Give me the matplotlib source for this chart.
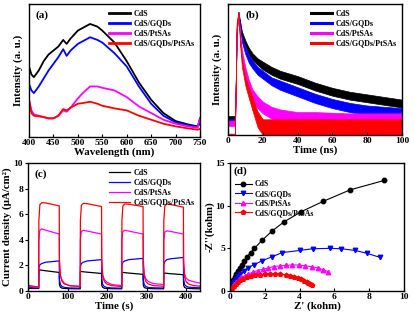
import matplotlib
matplotlib.use("Agg")
import matplotlib.pyplot as plt

plt.rcParams['font.family'] = ['Liberation Serif', 'DejaVu Serif']
plt.rcParams['font.weight'] = 'bold'
plt.rcParams['axes.labelweight'] = 'bold'
plt.rcParams['axes.linewidth'] = 1.0

names = ['CdS', 'CdS/GQDs', 'CdS/PtSAs', 'CdS/GQDs/PtSAs']
colors = ['black', '#0000ff', '#ff00ff', '#ff0000']

# ---------- (a) PL spectra ----------
wl = [400, 405, 410, 420, 430, 440, 450, 460, 470, 477, 485, 500, 510, 525, 540,
      550, 575, 600, 625, 650, 675, 700, 725, 745, 750]
pl_cds = [53, 47, 45, 50, 57, 62, 65, 68, 73, 70, 74, 80, 82, 85, 83,
          80, 71, 57, 41, 28, 18, 12, 9.5, 8, 10]
pl_gqd = [40, 35, 33, 38, 44, 50, 55, 60, 66, 61, 65, 70, 72, 75, 73,
          71, 63, 53, 38, 25, 16, 11, 9, 7.5, 14]
pl_pt = [28, 20, 17, 16, 15, 14, 14, 16, 20, 19, 22, 29, 33, 38, 38,
         37, 35, 30, 23, 18, 13, 10, 8, 7, 14]
pl_gp = [28, 18, 16, 15.5, 15, 14, 14, 16, 21, 20, 22, 25, 25.5, 26.5, 25,
         23.5, 21.5, 20, 16, 13, 10, 8, 6.5, 5.5, 6]

# ---------- (b) TRPL decay (centre and noise half-width) ----------
tb = [0, 2, 4, 4.5, 5, 6, 7, 8, 10, 12, 14, 17, 20, 25, 30, 40, 50, 60, 70, 80, 90, 100]
tr_cds = [12, 12, 12, 40, 80, 93, 85, 77, 70, 64, 60, 56, 53, 49, 46, 42, 37, 33, 30, 28, 26, 24]
tr_gqd = [10, 10, 10, 40, 80, 93, 82, 73, 64, 58, 54, 49, 46, 41, 38, 33, 28, 24, 21, 19, 18, 17]
tr_pt = [9, 9, 9, 40, 80, 93, 75, 62, 48, 38, 31, 25, 21, 17, 15, 13, 13, 12.5, 12, 12, 12, 12]
tr_gp = [0.5, 0.5, 0.5, 45, 85, 93, 70, 55, 41, 32, 24, 12, 6, 6, 6, 6, 6, 6, 6, 6, 6, 6]
wd_cds = [2.5, 2.5, 2.5, 1, 1, 1, 1.5, 2, 2, 2.5, 2.5, 2.5, 3, 3, 3, 3, 3, 3, 3, 3, 3, 3]
wd_gqd = [2, 2, 2, 1, 1, 1, 1.5, 2, 2.5, 3, 3, 3, 3, 3, 3.5, 3.5, 3.5, 3.5, 3.5, 3.5, 3.5, 3.5]
wd_pt = [2, 2, 2, 1, 1, 1, 2, 3, 3.5, 4, 4, 4.5, 4.5, 4.5, 4.5, 4.5, 4.5, 4.5, 4.5, 4.5, 4.5, 4.5]
wd_gp = [0.5, 0.5, 0.5, 1, 1, 1, 2, 3, 3.5, 4, 5, 6, 6, 6, 6, 6, 6, 6, 6, 6, 6, 6]

# ---------- (c) transient photocurrent ----------
tc = [0,
      27, 27.5, 30, 35, 45, 79, 79.5, 82, 86, 92, 105,
      132, 132.5, 135, 140, 150, 186, 186.5, 189, 193, 199, 212,
      237, 237.5, 240, 245, 255, 291, 291.5, 294, 298, 304, 317,
      343, 343.5, 346, 351, 361, 393, 393.5, 396, 400, 406, 419, 435]
j_cds = [0.2,
         0.2, 1.6, 1.65, 1.62, 1.58, 1.45, 0.5, 0.3, 0.22, 0.2, 0.18,
         0.17, 1.5, 1.52, 1.5, 1.47, 1.37, 0.45, 0.28, 0.22, 0.2, 0.18,
         0.17, 1.42, 1.45, 1.43, 1.4, 1.3, 0.45, 0.28, 0.22, 0.2, 0.18,
         0.17, 1.38, 1.4, 1.38, 1.35, 1.27, 0.45, 0.28, 0.22, 0.2, 0.18, 0.17]
j_gqd = [0.3,
         0.22, 1.8, 2.05, 2.15, 2.25, 2.35, 0.9, 0.5, 0.35, 0.28, 0.24,
         0.22, 1.9, 2.15, 2.25, 2.35, 2.45, 0.9, 0.5, 0.35, 0.28, 0.24,
         0.22, 2.0, 2.25, 2.35, 2.45, 2.55, 0.9, 0.5, 0.35, 0.28, 0.25,
         0.23, 2.05, 2.3, 2.45, 2.52, 2.62, 0.9, 0.5, 0.38, 0.3, 0.27, 0.25]
j_pt = [0.35,
        0.3, 4.0, 4.75, 4.85, 4.75, 4.45, 2.0, 1.2, 0.85, 0.6, 0.42,
        0.35, 4.0, 4.65, 4.75, 4.68, 4.45, 2.0, 1.25, 0.9, 0.7, 0.5,
        0.42, 4.0, 4.65, 4.75, 4.68, 4.45, 2.1, 1.3, 0.95, 0.75, 0.58,
        0.5, 4.0, 4.6, 4.7, 4.65, 4.45, 2.1, 1.35, 1.0, 0.85, 0.72, 0.62]
j_gp = [0.45,
        0.3, 5.5, 6.75, 6.9, 6.88, 6.65, 2.5, 1.2, 0.75, 0.55, 0.42,
        0.35, 5.5, 6.7, 6.85, 6.82, 6.6, 2.5, 1.15, 0.75, 0.55, 0.42,
        0.35, 5.5, 6.65, 6.8, 6.78, 6.6, 2.5, 1.15, 0.75, 0.55, 0.42,
        0.37, 5.5, 6.65, 6.8, 6.75, 6.55, 2.4, 1.1, 0.72, 0.55, 0.42, 0.38]

# ---------- (d) EIS Nyquist ----------
zr_cds = [0.0, 0.05, 0.1, 0.15, 0.2, 0.27, 0.35, 0.45, 0.55, 0.68, 0.82, 0.98, 1.18,
          1.4, 1.85, 2.4, 3.1, 4.1, 5.35, 6.9, 8.85]
zi_cds = [0.0, 0.4, 0.7, 1.0, 1.3, 1.6, 1.95, 2.3, 2.65, 3.05, 3.5, 4.0, 4.5,
          5.0, 5.95, 7.0, 8.1, 9.3, 10.5, 11.85, 12.95]
zr_gqd = [0.0, 0.03, 0.08, 0.15, 0.24, 0.33, 0.45, 0.6, 0.8, 1.05, 1.4, 1.85, 2.4,
          3.0, 4.0, 4.75, 5.75, 6.4, 7.2, 7.9, 8.6]
zi_gqd = [0.0, 0.2, 0.5, 0.8, 1.1, 1.4, 1.7, 2.0, 2.35, 2.75, 3.1, 3.55, 4.0,
          4.5, 4.75, 4.95, 5.0, 4.95, 4.75, 4.4, 3.95]
zr_pt = [0.0, 0.03, 0.08, 0.15, 0.25, 0.36, 0.5, 0.65, 0.85, 1.05, 1.3, 1.6, 1.9,
         2.2, 2.5, 2.85, 3.2, 3.55, 3.95, 4.3, 4.7, 5.05, 5.35, 5.65]
zi_pt = [0.0, 0.15, 0.35, 0.6, 0.85, 1.1, 1.35, 1.6, 1.8, 2.0, 2.2, 2.4, 2.55,
         2.7, 2.85, 2.95, 3.0, 3.05, 3.05, 2.95, 2.85, 2.7, 2.5, 2.25]
zr_gp = [0.0, 0.06, 0.13, 0.22, 0.33, 0.45, 0.58, 0.75, 0.95, 1.2, 1.45, 1.7, 2.0,
         2.3, 2.6, 2.9, 3.2, 3.45, 3.7, 3.9, 4.1, 4.25, 4.4, 4.5, 4.6, 4.7]
zi_gp = [0.0, 0.2, 0.4, 0.6, 0.85, 1.05, 1.25, 1.45, 1.6, 1.75, 1.85, 1.9, 1.95,
         2.0, 2.0, 1.95, 1.9, 1.8, 1.65, 1.5, 1.35, 1.2, 1.05, 0.95, 0.85, 0.75]

W, H = 415, 315
fig = plt.figure(figsize=(W / 100, H / 100), dpi=100)


def box(l, t, r, b):
    return [l / W, 1 - b / H, (r - l) / W, (b - t) / H]


xtick_kw = dict(axis='x', direction='in', length=2.5, width=0.8, labelsize=6.8, pad=1.5)
ytick_kw = dict(axis='y', direction='out', length=2.5, width=0.8, labelsize=6.8, pad=1)
lab_fs = 7.8
leg_fs = 5.8
leg_kw = dict(frameon=False, handletextpad=0.4, labelspacing=0.25, borderaxespad=0.3,
              prop={'size': leg_fs, 'weight': 'bold'})


def style(ax):
    ax.tick_params(**xtick_kw)
    ax.tick_params(**ytick_kw)


# (a)
axa = fig.add_axes(box(29, 4, 200, 137))
for y, c, n in zip([pl_cds, pl_gqd, pl_pt, pl_gp], colors, names):
    axa.plot(wl, y, color=c, lw=1.3, label=n)
axa.set_xlim(400, 750)
axa.set_ylim(0, 100)
axa.set_xticks([400, 450, 500, 550, 600, 650, 700, 750])
axa.set_yticks([])
style(axa)
axa.set_xlabel('Wavelength (nm)', fontsize=lab_fs, labelpad=0)
axa.set_ylabel('Intensity (a. u.)', fontsize=lab_fs, labelpad=4)
axa.text(0.04, 0.95, '(a)', transform=axa.transAxes, fontsize=8, fontweight='bold', va='top')
axa.legend(loc='upper right', handlelength=2.6, **leg_kw)
for l in axa.get_legend().get_lines():
    l.set_linewidth(2)

# (b)
axb = fig.add_axes(box(228, 4, 402, 135))
for y, w, c, n in zip([tr_cds, tr_gqd, tr_pt, tr_gp], [wd_cds, wd_gqd, wd_pt, wd_gp], colors, names):
    lo = [a - d for a, d in zip(y, w)]
    hi = [a + d for a, d in zip(y, w)]
    axb.fill_between(tb, lo, hi, color=c, lw=0.5, edgecolor=c)
    axb.plot([], [], color=c, lw=2.2, label=n)
axb.set_xlim(0, 100)
axb.set_ylim(0, 100)
axb.set_xticks([0, 20, 40, 60, 80, 100])
axb.set_yticks([])
style(axb)
axb.set_xlabel('Time (ns)', fontsize=lab_fs, labelpad=0)
axb.set_ylabel('Intensity (a. u.)', fontsize=lab_fs, labelpad=4)
axb.text(0.1, 0.95, '(b)', transform=axb.transAxes, fontsize=8, fontweight='bold', va='top')
axb.legend(loc='upper right', handlelength=2.6, **leg_kw)

# (c)
axc = fig.add_axes(box(28, 163, 200, 291))
for y, c, n in zip([j_cds, j_gqd, j_pt, j_gp], colors, names):
    axc.plot(tc, y, color=c, lw=0.9, label=n)
axc.set_xlim(0, 435)
axc.set_ylim(0, 10)
axc.set_xticks([0, 100, 200, 300, 400])
axc.set_yticks([0, 2, 4, 6, 8, 10])
style(axc)
axc.set_xlabel('Time (s)', fontsize=lab_fs, labelpad=0)
axc.set_ylabel('Current density (μA/cm²)', fontsize=lab_fs, labelpad=1)
axc.text(0.04, 0.95, '(c)', transform=axc.transAxes, fontsize=8, fontweight='bold', va='top')
axc.legend(loc='upper right', handlelength=2.6, **leg_kw)

# (d)
axd = fig.add_axes(box(230, 163, 404, 291))
markers = ['o', 'v', '^', 'p']
for (x, y), c, m, n in zip([(zr_cds, zi_cds), (zr_gqd, zi_gqd), (zr_pt, zi_pt), (zr_gp, zi_gp)],
                           colors, markers, names):
    axd.plot(x, y, color=c, lw=0.8, marker=m, ms=3.2, label=n)
axd.set_xlim(0, 10)
axd.set_ylim(0, 15)
axd.set_xticks([0, 2, 4, 6, 8, 10])
axd.set_yticks([0, 5, 10, 15])
style(axd)
axd.set_xlabel("Z' (kohm)", fontsize=lab_fs, labelpad=0)
axd.set_ylabel("-Z''(kohm)", fontsize=lab_fs, labelpad=1)
axd.text(0.02, 0.97, '(d)', transform=axd.transAxes, fontsize=8, fontweight='bold', va='top')
axd.legend(loc='upper left', handlelength=2.2, bbox_to_anchor=(0.0, 0.9),
           frameon=False, handletextpad=0.4, labelspacing=0.2, borderaxespad=0.2,
           prop={'size': 5.6, 'weight': 'bold'})

fig.savefig('out.png', dpi=100)
